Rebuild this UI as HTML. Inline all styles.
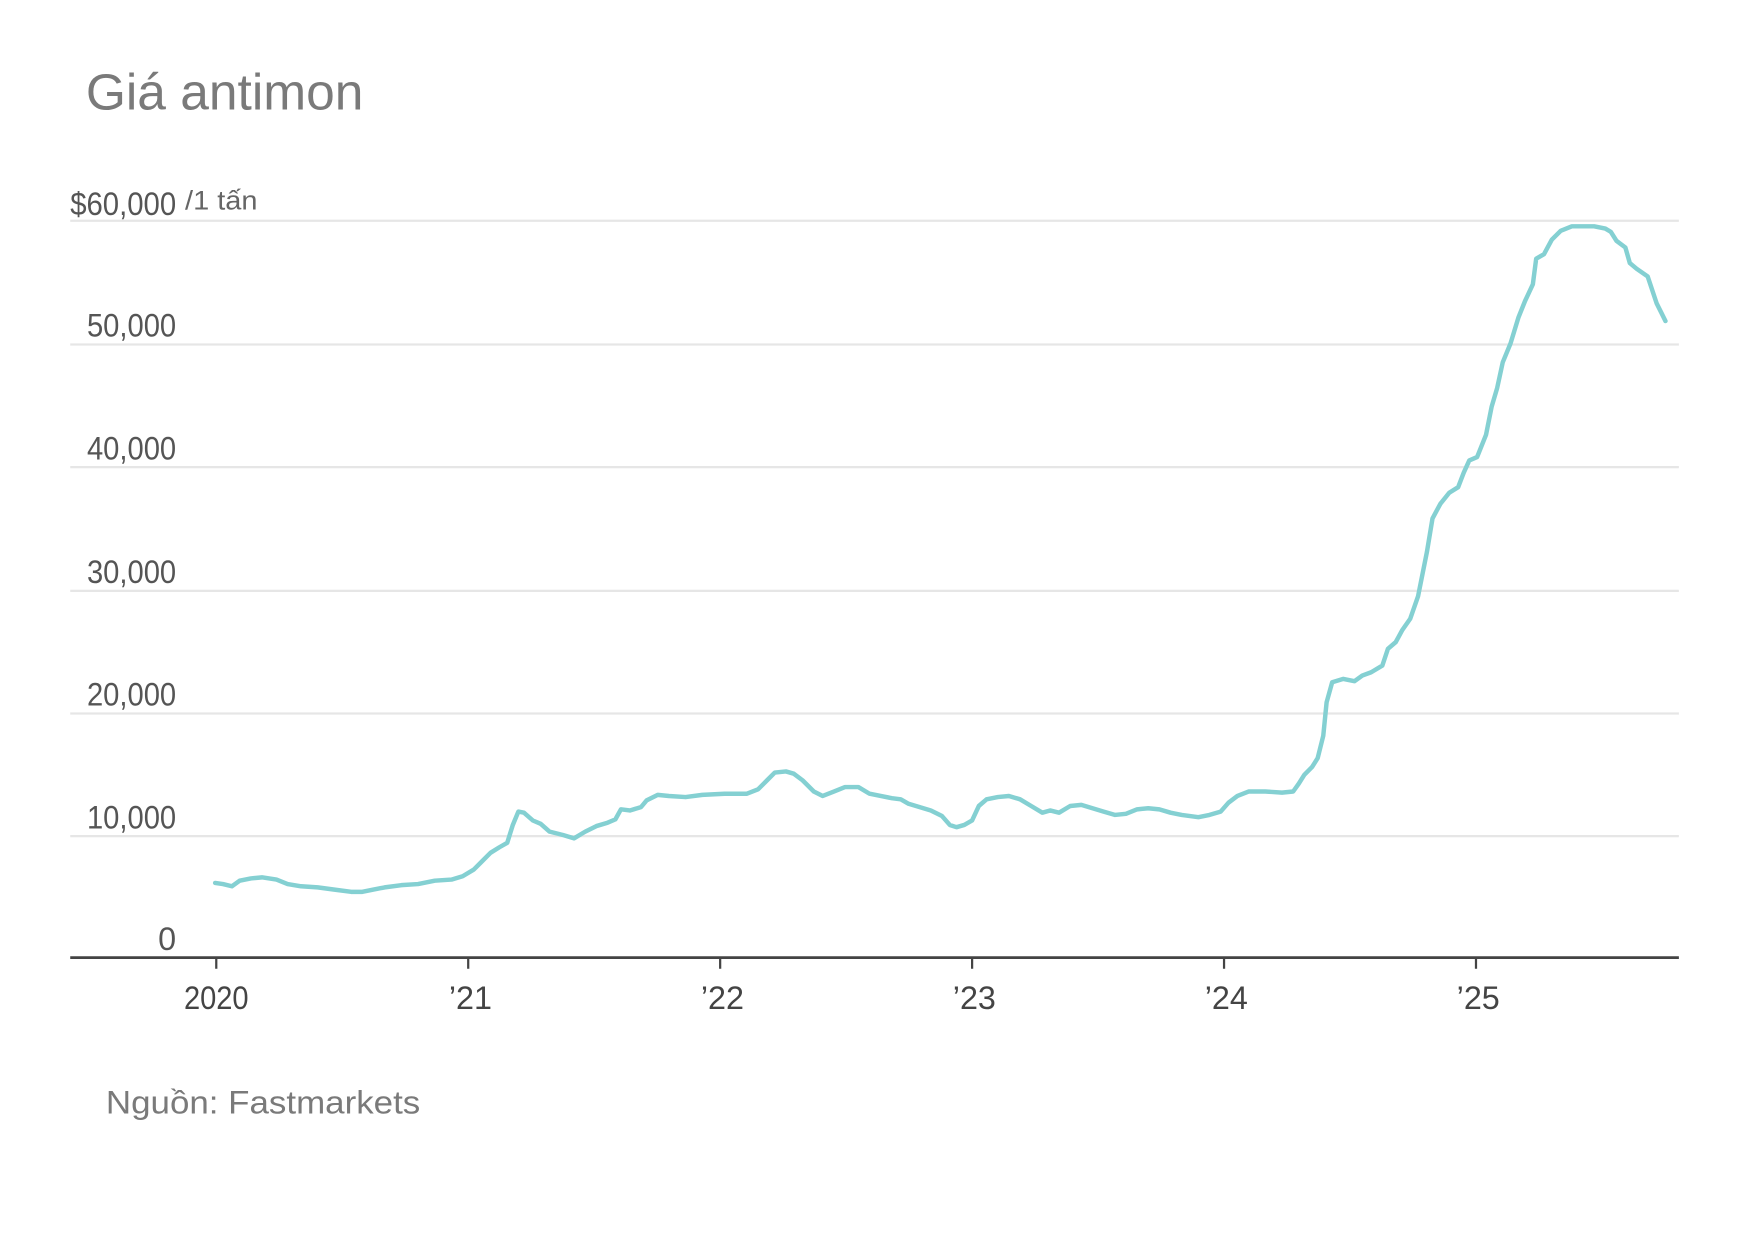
<!DOCTYPE html>
<html><head><meta charset="utf-8"><style>
html,body{margin:0;padding:0;background:#fff;}
svg{display:block;}
.ax{font-family:"Liberation Sans",sans-serif;fill:#555;font-size:29px;}
</style></head><body>
<svg width="1748" height="1240" viewBox="0 0 1568 1112.3" xmlns="http://www.w3.org/2000/svg">
<rect width="1568" height="1112.3" fill="#fff"/>
<text x="77" y="98" font-family="Liberation Sans, sans-serif" font-size="46" fill="#7a7a7a" textLength="249" lengthAdjust="spacingAndGlyphs">Giá antimon</text>
<g stroke="#e6e6e6" stroke-width="2">
<line x1="63" x2="1506" y1="198" y2="198"/>
<line x1="63" x2="1506" y1="309" y2="309"/>
<line x1="63" x2="1506" y1="419" y2="419"/>
<line x1="63" x2="1506" y1="530" y2="530"/>
<line x1="63" x2="1506" y1="640" y2="640"/>
<line x1="63" x2="1506" y1="750" y2="750"/>
</g>
<g class="ax" text-anchor="end" lengthAdjust="spacingAndGlyphs">
<text x="158" y="193" textLength="95" lengthAdjust="spacingAndGlyphs">$60,000</text>
<text x="158" y="302" textLength="80" lengthAdjust="spacingAndGlyphs">50,000</text>
<text x="158" y="412" textLength="80" lengthAdjust="spacingAndGlyphs">40,000</text>
<text x="158" y="523" textLength="80" lengthAdjust="spacingAndGlyphs">30,000</text>
<text x="158" y="633" textLength="80" lengthAdjust="spacingAndGlyphs">20,000</text>
<text x="158" y="743" textLength="80" lengthAdjust="spacingAndGlyphs">10,000</text>
<text x="158" y="852">0</text>
</g>
<text x="166" y="188" font-family="Liberation Sans, sans-serif" font-size="24" fill="#666" textLength="65" lengthAdjust="spacingAndGlyphs">/1 tấn</text>
<line x1="63" x2="1506" y1="859" y2="859" stroke="#444" stroke-width="2.5"/>
<g stroke="#444" stroke-width="2">
<line x1="194" x2="194" y1="859" y2="869"/>
<line x1="420" x2="420" y1="859" y2="869"/>
<line x1="646" x2="646" y1="859" y2="869"/>
<line x1="872" x2="872" y1="859" y2="869"/>
<line x1="1098" x2="1098" y1="859" y2="869"/>
<line x1="1324" x2="1324" y1="859" y2="869"/>
</g>
<g class="ax" text-anchor="middle" style="fill:#444">
<text x="194" y="905" textLength="58" lengthAdjust="spacingAndGlyphs">2020</text>
<text x="422" y="905">’21</text>
<text x="648" y="905">’22</text>
<text x="874" y="905">’23</text>
<text x="1100" y="905">’24</text>
<text x="1326" y="905">’25</text>
</g>
<text x="95" y="999" font-family="Liberation Sans, sans-serif" font-size="29" fill="#7a7a7a" textLength="282" lengthAdjust="spacingAndGlyphs">Nguồn: Fastmarkets</text>
<polyline fill="none" stroke="#84d0d2" stroke-width="4" stroke-linejoin="round" stroke-linecap="round" points="193,792 200,793 208,795 215,790 225,788 235,787 248,789 258,793 270,795 285,796 300,798 315,800 325,800 335,798 345,796 360,794 375,793 390,790 405,789 415,786 425,780 432,773 440,765 448,760 455,756 460,740 465,728 470,729 478,736 485,739 493,746 505,749 515,752 525,746 535,741 545,738 552,735 557,726 565,727 575,724 580,718 590,713 600,714 615,715 630,713 650,712 670,712 680,708 688,700 695,693 705,692 712,694 720,700 730,710 738,714 748,710 758,706 770,706 780,712 790,714 800,716 808,717 815,721 825,724 835,727 845,732 852,740 858,742 865,740 872,736 878,723 885,717 895,715 905,714 915,717 925,723 935,729 942,727 950,729 960,723 970,722 980,725 990,728 1000,731 1010,730 1020,726 1030,725 1040,726 1050,729 1060,731 1075,733 1085,731 1095,728 1102,720 1110,714 1120,710 1135,710 1150,711 1160,710 1165,703 1170,695 1177,688 1182,680 1187,660 1190,630 1195,612 1205,609 1215,611 1222,606 1230,603 1240,597 1245,582 1252,576 1258,565 1265,555 1272,535 1280,495 1285,465 1292,452 1300,442 1308,437 1313,424 1318,413 1325,410 1333,390 1338,365 1343,348 1348,325 1355,308 1362,285 1368,270 1375,255 1378,232 1385,228 1392,215 1400,207 1410,203 1430,203 1440,205 1445,208 1450,216 1458,222 1462,236 1468,241 1478,248 1482,260 1486,272 1490,280 1494,288"/>
</svg>
</body></html>
